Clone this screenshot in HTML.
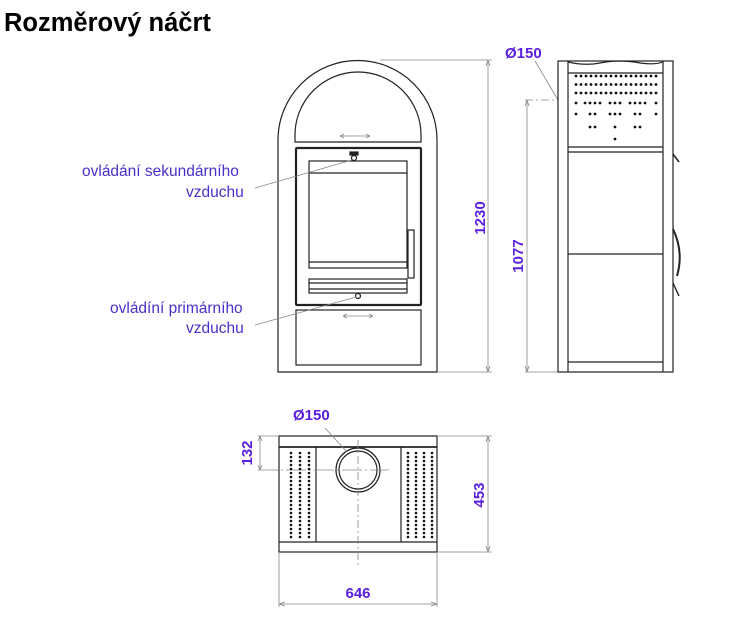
<!DOCTYPE html>
<html><head><meta charset="utf-8"><style>
body{margin:0;background:#fff;width:732px;height:629px;overflow:hidden}
svg{display:block}
.t{font-family:"Liberation Sans",sans-serif}
.d{font-family:"Liberation Sans",sans-serif;font-weight:bold;font-size:15px;fill:#5a1ee0}
.l{font-family:"Liberation Sans",sans-serif;font-size:15.5px;fill:#4a2fc8}
</style></head><body>
<svg width="732" height="629" viewBox="0 0 732 629">
<text x="4" y="31" class="t" font-size="25.5" font-weight="bold" fill="#000">Rozměrový náčrt</text>

<g fill="none" stroke="#222" stroke-width="1.2">
<path d="M278 372 V140 A79.5 79.5 0 0 1 437 140 V372 Z"/>
<path d="M295 142 V135 A63 63 0 0 1 421 135 V142 Z"/>
<rect x="296" y="148" width="125" height="157" stroke-width="2.2" rx="1"/>
<rect x="309" y="161" width="98" height="107"/>
<line x1="309" y1="173" x2="407" y2="173"/>
<line x1="309" y1="262" x2="407" y2="262"/>
<rect x="408" y="230" width="6" height="48"/>
<rect x="309" y="279" width="98" height="14"/>
<line x1="309" y1="283" x2="407" y2="283"/>
<line x1="309" y1="289" x2="407" y2="289"/>
<rect x="296" y="310" width="125" height="55"/>
<rect x="350" y="152" width="8" height="3" fill="#222"/>
<circle cx="354" cy="158" r="2.5"/>
<circle cx="358" cy="296" r="2.5"/>
</g>
<g stroke="#888" stroke-width="0.8" fill="none">
<path d="M340 136 H370 M340 136 l4 -2 M340 136 l4 2 M370 136 l-4 -2 M370 136 l-4 2"/>
<path d="M343 316 H373 M343 316 l4 -2 M343 316 l4 2 M373 316 l-4 -2 M373 316 l-4 2"/>
<line x1="255" y1="188" x2="352" y2="160"/>
<line x1="255" y1="325" x2="356" y2="297"/>
<line x1="380" y1="60" x2="492" y2="60"/>
<line x1="437" y1="372" x2="492" y2="372"/>
<line x1="488" y1="60" x2="488" y2="372"/>
<path d="M488 60 l-2 6 M488 60 l2 6 M488 372 l-2 -6 M488 372 l2 -6"/>
<line x1="527" y1="100" x2="527" y2="372"/>
<line x1="525" y1="100" x2="558" y2="100" stroke-dasharray="8 3 2 3"/>
<line x1="525" y1="372" x2="558" y2="372"/>
<path d="M527 100 l-2 6 M527 100 l2 6 M527 372 l-2 -6 M527 372 l2 -6"/>
<line x1="535" y1="61" x2="558" y2="100"/>
</g>
<text class="l" x="82" y="176">ovládání sekundárního</text>
<text class="l" x="186" y="197">vzduchu</text>
<text class="l" x="110" y="313">ovládíní primárního</text>
<text class="l" x="186" y="333">vzduchu</text>
<text class="d" transform="translate(485,218) rotate(-90)" text-anchor="middle">1230</text>
<text class="d" transform="translate(523,256) rotate(-90)" text-anchor="middle">1077</text>
<text class="d" x="505" y="58">Ø150</text>

<g fill="none" stroke="#222" stroke-width="1.2">
<rect x="558" y="61" width="115" height="311"/>
<line x1="568" y1="61" x2="568" y2="372"/>
<line x1="663" y1="61" x2="663" y2="372"/>
<path d="M568 62 Q585 66 600 63 Q620 59 640 63 Q655 65 663 62"/>
<line x1="568" y1="73" x2="663" y2="73"/>
<line x1="568" y1="147" x2="663" y2="147"/>
<line x1="568" y1="152" x2="663" y2="152"/>
<line x1="568" y1="254" x2="663" y2="254"/>
<line x1="568" y1="362" x2="663" y2="362"/>
<line x1="673" y1="154" x2="679" y2="162" stroke-width="1.6"/>
<path d="M673 229 Q684 252 677 276" stroke-width="2"/>
<line x1="673" y1="283" x2="679" y2="296" stroke-width="1.4"/>
</g>
<g fill="#111">
<g id="row"><circle cx="576" cy="76" r="1.4"/><circle cx="581" cy="76" r="1.4"/><circle cx="586" cy="76" r="1.4"/><circle cx="591" cy="76" r="1.4"/><circle cx="596" cy="76" r="1.4"/><circle cx="601" cy="76" r="1.4"/><circle cx="606" cy="76" r="1.4"/><circle cx="611" cy="76" r="1.4"/><circle cx="616" cy="76" r="1.4"/><circle cx="621" cy="76" r="1.4"/><circle cx="626" cy="76" r="1.4"/><circle cx="631" cy="76" r="1.4"/><circle cx="636" cy="76" r="1.4"/><circle cx="641" cy="76" r="1.4"/><circle cx="646" cy="76" r="1.4"/><circle cx="651" cy="76" r="1.4"/><circle cx="656" cy="76" r="1.4"/></g>
<use href="#row" y="8.5"/><use href="#row" y="17"/>
<circle cx="576" cy="103" r="1.4"/><circle cx="585" cy="103" r="1.4"/><circle cx="590" cy="103" r="1.4"/><circle cx="595" cy="103" r="1.4"/><circle cx="600" cy="103" r="1.4"/><circle cx="610" cy="103" r="1.4"/><circle cx="615" cy="103" r="1.4"/><circle cx="620" cy="103" r="1.4"/><circle cx="630" cy="103" r="1.4"/><circle cx="635" cy="103" r="1.4"/><circle cx="640" cy="103" r="1.4"/><circle cx="645" cy="103" r="1.4"/><circle cx="656" cy="103" r="1.4"/>
<circle cx="576" cy="114" r="1.4"/><circle cx="590" cy="114" r="1.4"/><circle cx="595" cy="114" r="1.4"/><circle cx="610" cy="114" r="1.4"/><circle cx="615" cy="114" r="1.4"/><circle cx="620" cy="114" r="1.4"/><circle cx="635" cy="114" r="1.4"/><circle cx="640" cy="114" r="1.4"/><circle cx="656" cy="114" r="1.4"/>
<circle cx="590" cy="127" r="1.4"/><circle cx="595" cy="127" r="1.4"/><circle cx="615" cy="127" r="1.4"/><circle cx="635" cy="127" r="1.4"/><circle cx="640" cy="127" r="1.4"/>
<circle cx="615" cy="139" r="1.4"/>
</g>

<g fill="none" stroke="#222" stroke-width="1.2">
<rect x="279" y="436" width="158" height="116"/>
<line x1="279" y1="447" x2="437" y2="447" stroke-width="1.8"/>
<line x1="279" y1="542" x2="437" y2="542"/>
<line x1="316" y1="447" x2="316" y2="542"/>
<line x1="401" y1="447" x2="401" y2="542"/>
<circle cx="358" cy="470" r="22"/>
<circle cx="358" cy="470" r="19"/>
</g>
<g stroke="#888" stroke-width="0.8" fill="none">
<line x1="358" y1="440" x2="358" y2="565" stroke-dasharray="8 3 2 3"/>
<line x1="258" y1="470" x2="389" y2="470" stroke-dasharray="20 3 2 3"/>
<line x1="258" y1="436" x2="279" y2="436"/>
<line x1="260" y1="436" x2="260" y2="470"/>
<path d="M260 436 l-2 5 M260 436 l2 5 M260 470 l-2 -5 M260 470 l2 -5"/>
<line x1="437" y1="436" x2="492" y2="436"/>
<line x1="437" y1="552" x2="492" y2="552"/>
<line x1="488" y1="436" x2="488" y2="552"/>
<path d="M488 436 l-2 6 M488 436 l2 6 M488 552 l-2 -6 M488 552 l2 -6"/>
<line x1="279" y1="552" x2="279" y2="607"/>
<line x1="437" y1="552" x2="437" y2="607"/>
<line x1="279" y1="604" x2="437" y2="604"/>
<path d="M279 604 l6 -2 M279 604 l6 2 M437 604 l-6 -2 M437 604 l-6 2"/>
<line x1="325" y1="428" x2="347" y2="452"/>
</g>
<defs>
<g id="col"><circle cx="0" cy="453" r="1.3"/><circle cx="0" cy="457" r="1.3"/><circle cx="0" cy="461" r="1.3"/><circle cx="0" cy="465" r="1.3"/><circle cx="0" cy="469" r="1.3"/><circle cx="0" cy="473" r="1.3"/><circle cx="0" cy="477" r="1.3"/><circle cx="0" cy="481" r="1.3"/><circle cx="0" cy="485" r="1.3"/><circle cx="0" cy="489" r="1.3"/><circle cx="0" cy="493" r="1.3"/><circle cx="0" cy="497" r="1.3"/><circle cx="0" cy="501" r="1.3"/><circle cx="0" cy="505" r="1.3"/><circle cx="0" cy="509" r="1.3"/><circle cx="0" cy="513" r="1.3"/><circle cx="0" cy="517" r="1.3"/><circle cx="0" cy="521" r="1.3"/><circle cx="0" cy="525" r="1.3"/><circle cx="0" cy="529" r="1.3"/><circle cx="0" cy="533" r="1.3"/><circle cx="0" cy="537" r="1.3"/></g>
</defs>
<g fill="#111">
<use href="#col" x="291"/><use href="#col" x="300"/><use href="#col" x="309"/>
<use href="#col" x="408"/><use href="#col" x="416"/><use href="#col" x="424"/><use href="#col" x="432"/>
</g>
<text class="d" x="293" y="420">Ø150</text>
<text class="d" transform="translate(252,453) rotate(-90)" text-anchor="middle">132</text>
<text class="d" transform="translate(484,495) rotate(-90)" text-anchor="middle">453</text>
<text class="d" x="358" y="598" text-anchor="middle">646</text>
</svg>
</body></html>
